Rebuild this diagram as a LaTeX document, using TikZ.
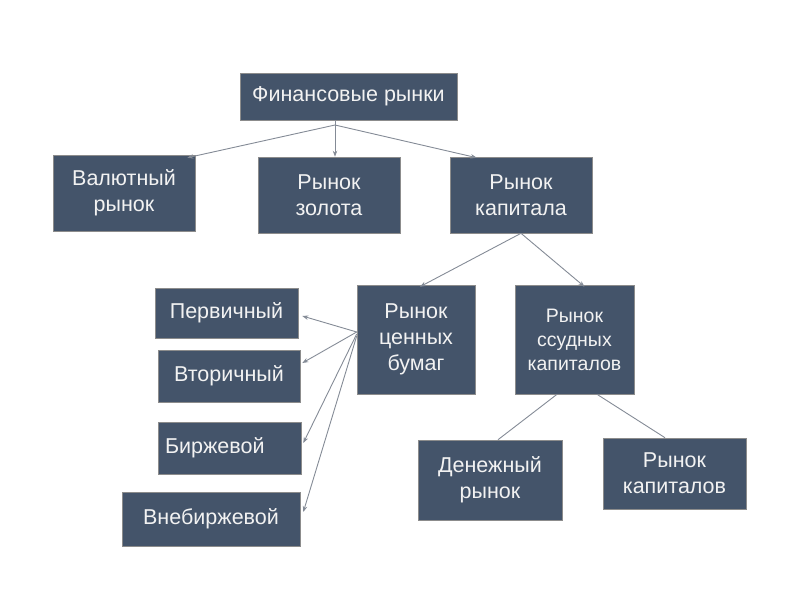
\documentclass[tikz,border=0pt]{standalone}
\usepackage{fontspec}
\setmainfont{Liberation Sans}
\usepackage{xcolor}
\usetikzlibrary{arrows.meta,positioning}

\definecolor{boxfill}{HTML}{44546A}
\definecolor{boxtext}{HTML}{F2F2F2}
\definecolor{linegray}{HTML}{848B96}

\begin{document}
\begin{tikzpicture}[
  x=1pt, y=-1pt,
  box/.style={
    draw=black!45,
    fill=boxfill,
    text=boxtext,
    align=center,
    inner sep=0pt,
    line width=0.6pt,
    font=\fontsize{21.5}{26}\selectfont
  },
  small/.style={font=\fontsize{19.5}{24}\selectfont},
  arr/.style={-{Stealth[length=6pt,width=4.5pt]}, draw=linegray, line width=0.9pt},
  conn/.style={draw=linegray, line width=0.9pt}
]
\useasboundingbox (0,0) rectangle (800,600);

% top level
\node[box, minimum width=217pt, minimum height=47pt] (fin) at (348.5,96.5) {Финансовые рынки};
\node[box, minimum width=142pt, minimum height=76pt] (val) at (124,193) {Валютный\\рынок};
\node[box, minimum width=142pt, minimum height=76pt] (zol) at (329,195) {Рынок\\золота};
\node[box, minimum width=142pt, minimum height=76pt] (kap) at (521,195) {Рынок\\капитала};

% capital market
\node[box, minimum width=118pt, minimum height=109pt] (cen) at (416,339.5) {Рынок\\ценных\\бумаг};
\node[box, small, minimum width=119pt, minimum height=109pt] (ssud) at (574.5,339.5) {Рынок\\ссудных\\капиталов};

% securities
\node[box, minimum width=143pt, minimum height=50pt] (perv) at (226.5,313) {Первичный};
\node[box, minimum width=142pt, minimum height=52pt] (vtor) at (229,376) {Вторичный};
\node[box, align=left, text width=129pt, inner xsep=7pt, minimum height=52pt] (birzh) at (229.5,448) {Биржевой};
\node[box, minimum width=178pt, minimum height=54pt] (vneb) at (211,519) {Внебиржевой};

% loan capital
\node[box, minimum width=144pt, minimum height=80pt] (den) at (490,480) {Денежный\\рынок};
\node[box, minimum width=143pt, minimum height=71pt] (rkap) at (674.5,473.5) {Рынок\\капиталов};

\coordinate (fork) at (335,125);
\draw[conn] (fin.south -| fork) -- (fork);
\draw[arr] (fork) -- ([xshift=-8pt,yshift=-3pt]val.north east);
\draw[arr] (fork) -- (fork |- zol.north);
\draw[arr] (fork) -- ([xshift=27pt,yshift=-1pt]kap.north west);

\draw[arr] (kap.south) -- ([xshift=4pt,yshift=-2pt]cen.north);
\draw[arr] (kap.south) -- ([xshift=10pt,yshift=-2pt]ssud.north);

\draw[conn] ([xshift=-17.5pt]ssud.south) -- ([xshift=8pt]den.north);
\draw[conn] ([xshift=22.5pt]ssud.south) -- ([xshift=-9.5pt]rkap.north);

\coordinate (cenl) at ([yshift=7.5pt]cen.west);
\draw[arr] (cenl) -- ([xshift=4pt,yshift=-3pt]perv.east);
\draw[arr] (cenl) -- ([xshift=2pt,yshift=13pt]vtor.east);
\draw[arr] ([yshift=-2pt]cenl) -- ([xshift=2pt,yshift=5pt]birzh.east);
\draw[arr] ([yshift=-4pt]cenl) -- ([xshift=3pt,yshift=7pt]vneb.east);
\end{tikzpicture}
\end{document}
